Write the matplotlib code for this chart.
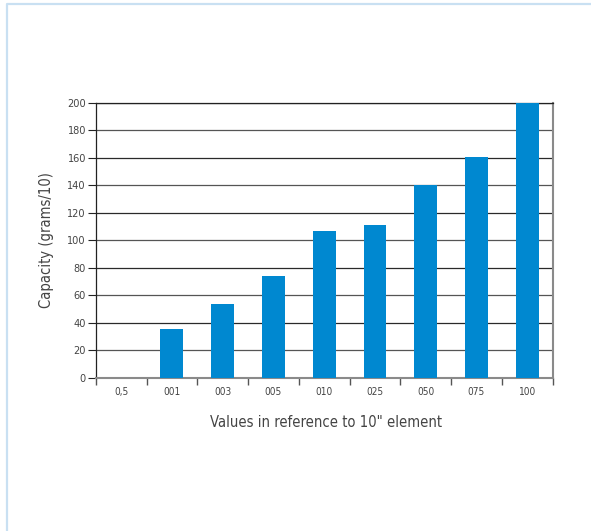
import matplotlib
matplotlib.use('Agg')
import matplotlib.pyplot as plt
from matplotlib.lines import Line2D
import numpy as np

plt.rcParams['font.family'] = ['DejaVu Sans']
plt.rcParams['font.stretch'] = 'condensed'

categories = ['0,5', '001', '003', '005', '010', '025', '050', '075', '100']
capacity = [0, 35.5, 53.5, 74, 106.5, 111, 140, 160.5, 200]
y_ticks = list(range(0, 201, 20))

BAR_COLOR = '#0088d0'
TEXT_COLOR = '#444444'

fig = plt.figure(figsize=(5.91, 5.31), dpi=100)
ax = fig.add_axes([0.162, 0.2887, 0.773, 0.518])

x = np.arange(len(categories))
ax.bar(x, capacity, width=0.45, color=BAR_COLOR, zorder=3)

ax.set_xlim(-0.5, len(categories) - 0.5)
ax.set_ylim(0, 200)

# horizontal grid, darker every 40
for v in y_ticks[1:]:
    ax.axhline(v, color='#2a2a2a' if v % 40 == 0 else '#555555',
               linewidth=0.9, zorder=1)

ax.set_yticks(y_ticks)
ax.set_xticks(x)
ax.set_xticklabels(categories)
ax.set_xticks(np.arange(-0.5, len(categories)), minor=True)

ax.tick_params(axis='y', length=5.5, width=0.8, color='#222222', pad=1.5,
               labelsize=7.8, labelcolor=TEXT_COLOR)
ax.tick_params(axis='x', which='major', length=0, pad=6.5,
               labelsize=7.2, labelcolor=TEXT_COLOR)
ax.tick_params(axis='x', which='minor', length=5, width=1.0, color='#555555')

ax.spines['left'].set_color('#222222')
ax.spines['left'].set_linewidth(0.9)
ax.spines['top'].set_color('#222222')
ax.spines['top'].set_linewidth(0.9)
ax.spines['right'].set_color('#8a8a8a')
ax.spines['right'].set_linewidth(1.5)
ax.spines['bottom'].set_color('#8a8a8a')
ax.spines['bottom'].set_linewidth(1.5)

ax.set_ylabel('Capacity (grams/10)', fontsize=10.6, color=TEXT_COLOR)
ax.set_xlabel('Values in reference to 10" element', fontsize=10.6, color=TEXT_COLOR)
ax.yaxis.set_label_coords(-0.091, 0.5)
ax.xaxis.set_label_coords(0.505, -0.137)

# light blue page frame
fw, fh = 591.0, 531.0
fig.add_artist(Line2D([6.5 / fw, 6.5 / fw, 1.0], [0, 1 - 3.5 / fh, 1 - 3.5 / fh],
                      transform=fig.transFigure, color='#c9e0f2', linewidth=1.6))

fig.savefig('out.png', dpi=100)
